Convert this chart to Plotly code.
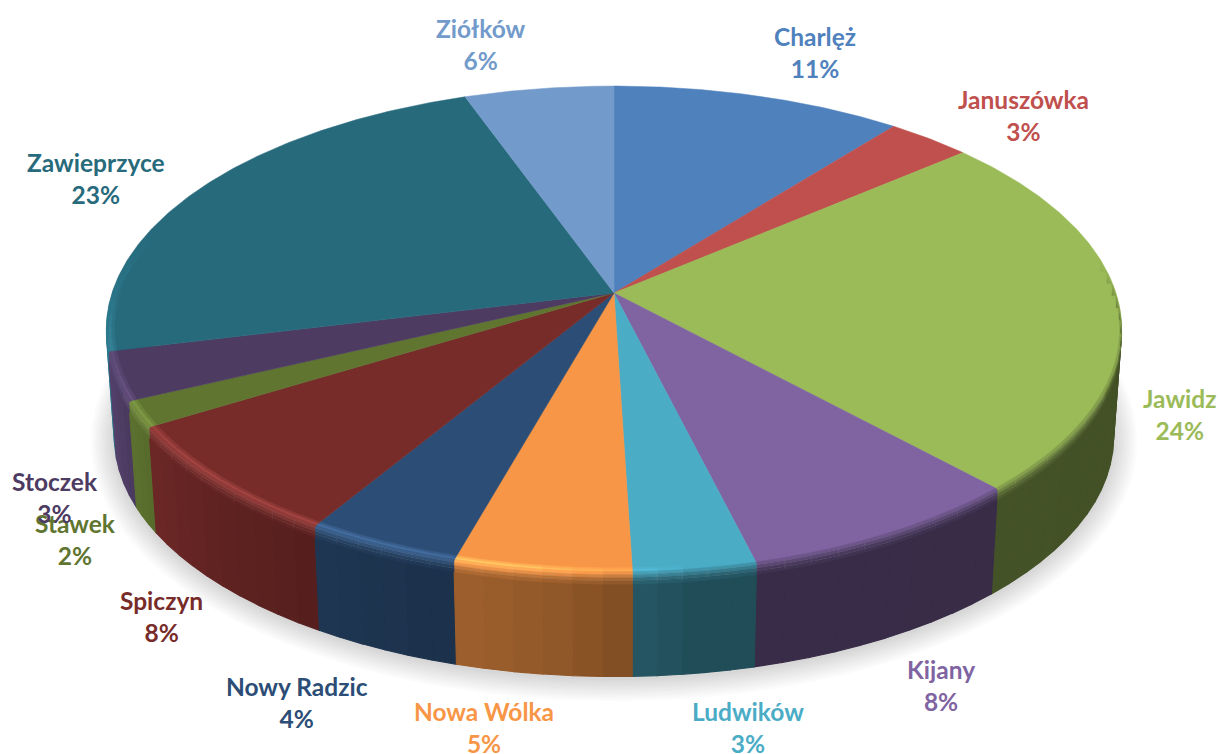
import numpy as np
import plotly.graph_objects as go

# ---- data ----
categories = ["Charlęż", "Januszówka", "Jawidz", "Kijany", "Ludwików", "Nowa Wólka",
              "Nowy Radzic", "Spiczyn", "Stawek", "Stoczek", "Zawieprzyce", "Ziółków"]
values = [10.7, 3.1, 24.3, 8.0, 3.4, 4.9, 4.3, 7.6, 1.7, 3.2, 23.3, 5.5]
percent_labels = ["11%", "3%", "24%", "8%", "3%", "5%", "4%", "8%", "2%", "3%", "23%", "6%"]

# ---- style ----
colors = ["#4F81BD", "#C0504D", "#9BBB59", "#8064A2", "#4BACC6", "#F79646",
          "#2C4D75", "#772C2A", "#5F7530", "#4D3B62", "#276A7C", "#729ACA"]
label_pos = [(815, 52), (1023, 115), (1179, 414), (941, 685), (748, 727), (484, 727),
             (297, 702), (161, 616), (75, 539), (55, 497), (96, 178), (481, 44)]
FONT = "Lato"
FONT_SIZE = 24.5

# ---- projection of the tilted disc ----
CX, CY = 614, 293
A, B, K = 238.0, 502.0, 0.15
H = 108.0


def project(theta_deg, r=1.0, z=0.0):
    t = np.radians(theta_deg)
    u, v = r * np.sin(t), r * np.cos(t)
    d = 1 + K * v
    s = 1 - 0.016 * z
    return CX + s * B * u / d, CY - s * A * v / d + H * z


def rgb(hexstr):
    return np.array([int(hexstr[i:i + 2], 16) for i in (1, 3, 5)], float)


def css(c):
    c = np.clip(c, 0, 255)
    return f"rgb({int(c[0])},{int(c[1])},{int(c[2])})"


def wall_factor(th):
    return np.interp(th, [90, 172, 187, 205, 225, 245, 260, 290],
                     [.43, .45, .60, .68, .80, .97, 1.15, 1.2])


def highlight(th):
    return np.interp(th, [172, 190, 230, 250, 275], [0, .2, .2, .14, .06])


def poly(xs, ys, color, opacity=None, lw=1.1):
    kw = {} if opacity is None else {"opacity": opacity}
    return go.Scatter(x=xs, y=ys, mode="lines", fill="toself", fillcolor=color,
                      line=dict(color=color, width=lw if opacity is None else 0),
                      hoverinfo="skip", showlegend=False, **kw)


fig = go.Figure()

# slice angles come from the values
total = sum(values)
edges = np.concatenate([[0], np.cumsum(values) / total * 360])

# soft shadow beneath the disc
ring = np.linspace(0, 360, 241)
for grow in np.linspace(24, 2, 10):
    x, y = project(ring, 1.0, 1.0)
    sx = CX + (x - CX) * (1 + grow / 510)
    sy = CY + 110 + (y - CY - 110) * (1 + grow / 290) + 2
    fig.add_trace(poly(sx, sy, "#000000", 0.016))

VIS_LO, VIS_HI, STEP = 82, 288, 3.0


def segments(a0, a1):
    lo, hi = max(a0, VIS_LO), min(a1, VIS_HI)
    if hi <= lo:
        return []
    n = max(1, int(np.ceil((hi - lo) / STEP)))
    pts = np.linspace(lo, hi, n + 1)
    return list(zip(pts[:-1], pts[1:]))


def band(t0, t1, p0, p1):
    arc = np.linspace(t0, t1, 4)
    x0, y0 = project(arc, *p0)
    x1, y1 = project(arc[::-1], *p1)
    return np.r_[x0, x1, x0[0]], np.r_[y0, y1, y0[0]]


# outer walls, back to front
order = np.argsort([-np.cos(np.radians((edges[i] + edges[i + 1]) / 2))
                    for i in range(len(values))])
for i in order:
    base = rgb(colors[i])
    for t0, t1 in segments(edges[i], edges[i + 1]):
        xs, ys = band(t0, t1, (1.0, 0.1), (1.0, 1.0))
        fig.add_trace(poly(xs, ys, css(base * wall_factor((t0 + t1) / 2))))

# top faces
for i in range(len(values)):
    arc = np.linspace(edges[i], edges[i + 1], max(3, int((edges[i + 1] - edges[i]) * 2)))
    x, y = project(arc)
    fig.add_trace(poly(np.r_[CX, x, CX], np.r_[CY, y, CY], colors[i], lw=0.5))

# rounded bevel between the face and the wall
profile = [(0.984, 0.0), (0.990, 0.0), (0.996, 0.0), (1.0, 0.015), (1.0, 0.045), (1.0, 0.075), (1.0, 0.11)]
for i in range(len(values)):
    base = rgb(colors[i])
    for t0, t1 in segments(edges[i], edges[i + 1]):
        th = (t0 + t1) / 2
        wall = base * wall_factor(th)
        h = highlight(th)
        lit = base * (1 + 1.3 * h) + 255 * 0.25 * h
        fade = np.interp(th, [VIS_LO, 100, 262, VIS_HI], [0, 1, 1, 0])
        shades = [(base + lit) / 2, lit, 0.75 * lit + 0.25 * wall,
                  0.5 * lit + 0.5 * wall, 0.25 * lit + 0.75 * wall, 0.1 * lit + 0.9 * wall]
        for j, shade in enumerate(shades):
            xs, ys = band(t0, t1, profile[j], profile[j + 1])
            fig.add_trace(poly(xs, ys, css(fade * shade + (1 - fade) * base), lw=0.4))

# labels
for name, pct, (lx, ly), col in zip(categories, percent_labels, label_pos, colors):
    fig.add_annotation(x=lx, y=ly, text=f"<b>{name}<br>{pct}</b>", showarrow=False,
                       xanchor="center", yanchor="middle", align="center",
                       font=dict(family=FONT, size=FONT_SIZE, color=col))

fig.update_layout(
    width=1220, height=754, margin=dict(l=0, r=0, t=0, b=0),
    paper_bgcolor="white", plot_bgcolor="white", showlegend=False,
    xaxis=dict(range=[0, 1220], visible=False, fixedrange=True),
    yaxis=dict(range=[754, 0], visible=False, fixedrange=True),
)
# let the figure fill the window exactly
fig.write_html("out.html", config={"displayModeBar": False},
               post_script="document.body.style.margin='0';"
                           "document.documentElement.style.overflow='hidden';")
